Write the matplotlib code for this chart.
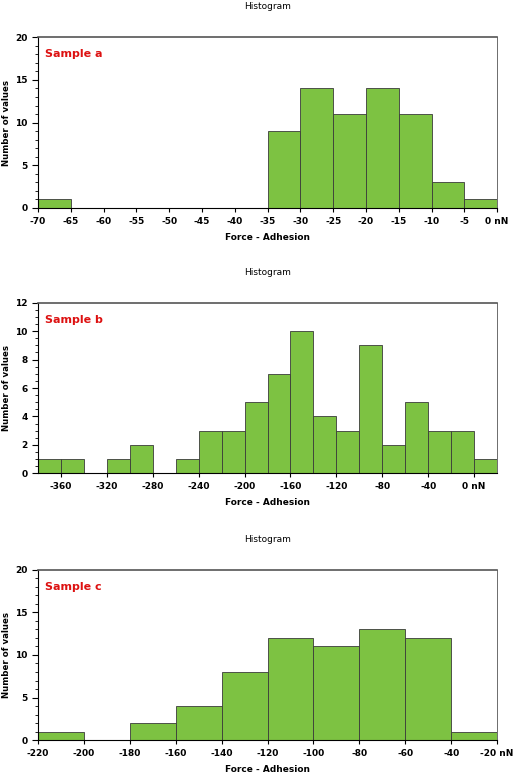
import matplotlib
matplotlib.use("Agg")
import matplotlib.pyplot as plt
import numpy as np
from matplotlib.ticker import MultipleLocator

plt.rcParams['font.family'] = ['DejaVu Sans']

a_edges = list(range(-70, 1, 5))
a_counts = [1, 0, 0, 0, 0, 0, 0, 9, 14, 11, 14, 11, 3, 1]
a_ticks = list(range(-70, 1, 5))

b_edges = list(range(-380, 21, 20))
b_counts = [1, 1, 0, 1, 2, 0, 1, 3, 3, 5, 7, 10, 4, 3, 9, 2, 5, 3, 3, 1]
b_ticks = list(range(-360, 1, 40))

c_edges = list(range(-220, -19, 20))
c_counts = [1, 0, 2, 4, 8, 12, 11, 13, 12, 1]
c_ticks = list(range(-220, -19, 20))

panels = [
    ("Sample a", a_edges, a_counts, a_ticks, 20, 5, 1, 0.732),
    ("Sample b", b_edges, b_counts, b_ticks, 12, 2, 0.5, 0.390),
    ("Sample c", c_edges, c_counts, c_ticks, 20, 5, 1, 0.046),
]

fig = plt.figure(figsize=(5.2, 7.76), dpi=100)
for label, edges, counts, ticks, ymax, major, minor, bottom in panels:
    ax = fig.add_axes([0.073, bottom, 0.883, 0.220])
    e = np.array(edges)
    ax.bar(e[:-1], counts, width=np.diff(e), align='edge', color='#7DC242',
           edgecolor='#3a3a3a', linewidth=0.6)
    ax.set_xlim(edges[0], edges[-1])
    ax.set_ylim(0, ymax)
    ax.set_xticks(ticks)
    ax.set_xticklabels([f"{t} nN" if t == ticks[-1] else str(t) for t in ticks],
                       fontsize=6.5, fontweight='bold')
    ax.yaxis.set_major_locator(MultipleLocator(major))
    ax.yaxis.set_minor_locator(MultipleLocator(minor))
    for t in ax.get_yticklabels():
        t.set_fontsize(6.5); t.set_fontweight('bold')
    ax.tick_params(axis='x', length=3, width=0.8)
    ax.tick_params(axis='y', which='major', length=4, width=0.8)
    ax.tick_params(axis='y', which='minor', length=2, width=0.6)
    for s in ['top', 'right']:
        ax.spines[s].set_color('#555555')
    ax.spines['top'].set_linewidth(1.2)
    ax.spines['right'].set_linewidth(0.6)
    ax.set_xlabel("Force - Adhesion", fontsize=6.5, fontweight='bold', labelpad=5)
    ax.set_ylabel("Number of values", fontsize=6.2, fontweight='bold')
    ax.yaxis.set_label_coords(-0.058, 0.5)
    ax.set_title("Histogram", fontsize=6.5, pad=20)
    ax.text(0.015, 0.9, label, transform=ax.transAxes, color='#dd1111',
            fontsize=8, fontweight='bold', va='center')

fig.savefig("out.png", dpi=100)
